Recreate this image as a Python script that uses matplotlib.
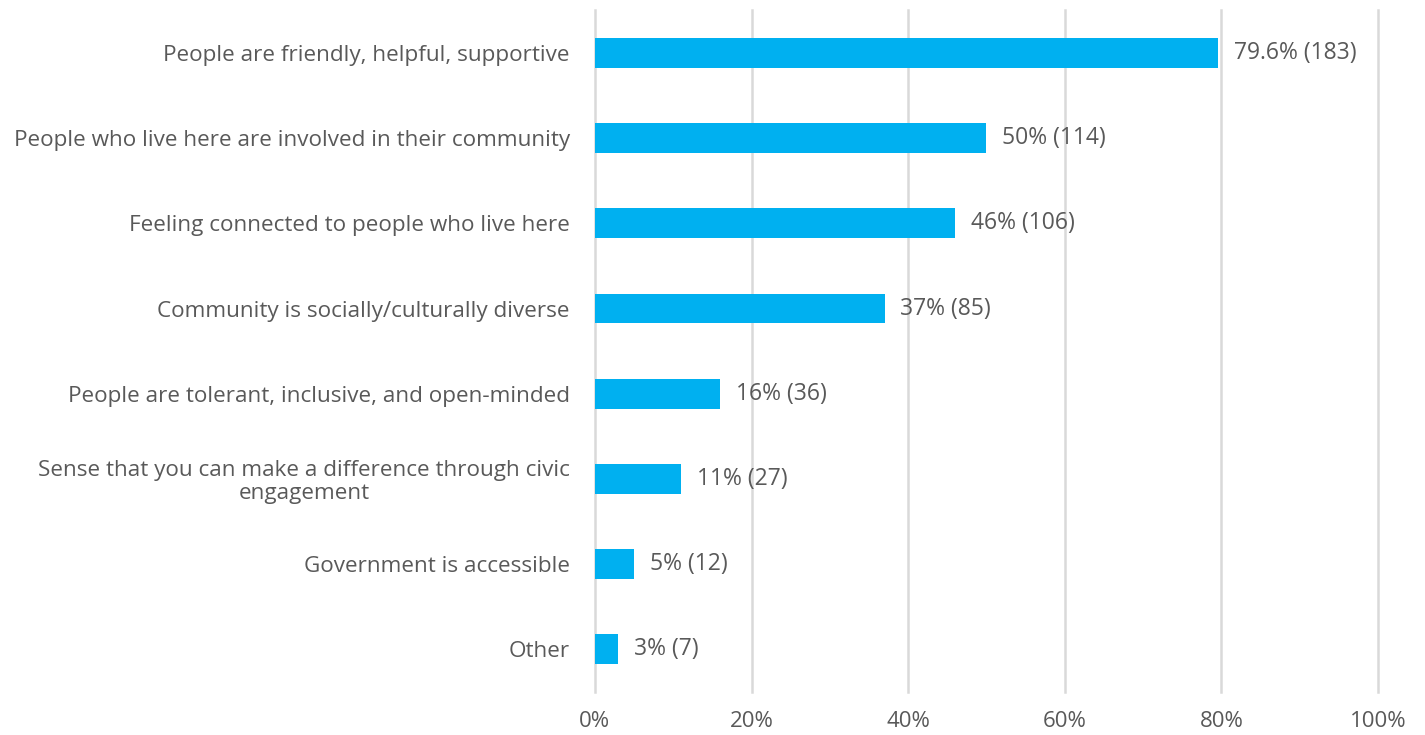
import matplotlib.pyplot as plt

plt.rcParams['font.family'] = ['Open Sans', 'DejaVu Sans']

categories = [
    'People are friendly, helpful, supportive',
    'People who live here are involved in their community',
    'Feeling connected to people who live here',
    'Community is socially/culturally diverse',
    'People are tolerant, inclusive, and open-minded',
    'Sense that you can make a difference through civic\nengagement',
    'Government is accessible',
    'Other',
]
percents = [79.6, 50, 46, 37, 16, 11, 5, 3]
counts = [183, 114, 106, 85, 36, 27, 12, 7]
xticks = [0, 20, 40, 60, 80, 100]

text_color = '#595959'

fig = plt.figure(figsize=(14.25, 7.35), dpi=100)
ax = fig.add_axes([0.4175, 0.0585, 0.5495, 0.9275])

ypos = list(range(len(categories)))
ax.barh(ypos, percents, height=0.35, color='#00B0F0', zorder=3)

# value labels to the right of each bar
for y, p, c in zip(ypos, percents, counts):
    ax.text(p + 2.0, y, f'{p:g}% ({c})', va='center', ha='left',
            fontsize=16.5, color=text_color)

ax.set_xlim(0, 100)
ax.set_ylim(len(categories) - 0.5, -0.5)
ax.set_xticks(xticks)
ax.set_xticklabels([f'{t}%' for t in xticks])
ax.set_yticks(ypos)
ax.set_yticklabels(categories, fontsize=16.2)
for t in ax.get_yticklabels():
    t.set_multialignment('center')
    t.set_linespacing(1.1)

ax.tick_params(axis='both', length=0, labelcolor=text_color)
ax.tick_params(axis='x', labelsize=16, pad=14)
ax.tick_params(axis='y', pad=18)

ax.grid(axis='x', color='#D9D9D9', linewidth=1.8, zorder=0)
for line in ax.get_xgridlines():
    line.set_clip_on(False)
for s in ax.spines.values():
    s.set_visible(False)

fig.savefig('out.png', dpi=100)
